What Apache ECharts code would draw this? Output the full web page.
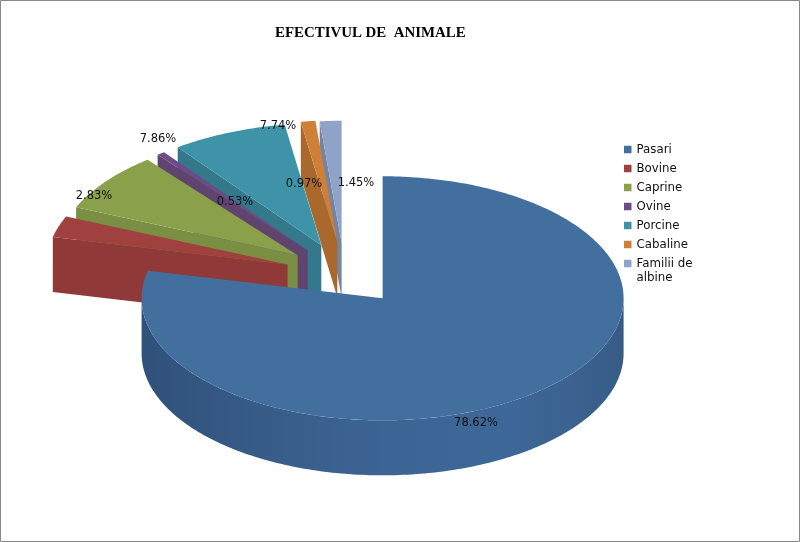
<!DOCTYPE html>
<html>
<head>
<meta charset="utf-8">
<style>html,body{margin:0;padding:0;background:#fff}#c{width:800px;height:542px}</style>
<script src="https://cdn.jsdelivr.net/npm/echarts@6/dist/echarts.min.js"></script>
</head>
<body>
<div id="c"></div>
<script>
const titleText = 'EFECTIVUL DE  ANIMALE';
const categories = ['Pasari', 'Bovine', 'Caprine', 'Ovine', 'Porcine', 'Cabaline', 'Familii de albine'];
const shares = [78.62, 2.83, 7.86, 0.53, 7.74, 0.97, 1.45];

const topColors  = ['#436f9f', '#a0413f', '#8aa04b', '#6c4b86', '#3f93a9', '#cf8038', '#8fa3c9'];
const wallColors = ['#3a6090', '#8f3a38', '#7b8f44', '#5f4470', '#34788c', '#a9682c', '#76849f'];
const explodeX = [0, -95, -85, -75, -61.3, -45.3, -41];
const explodeY = [0, -33.7, -43, -48, -53, -56, -55.5];
const labelX = [476, 94, 158, 235, 278, 304, 356];
const labelY = [423, 196, 139, 202, 126, 184, 183];

const CX = 382.6, CY = 298.3, RX = 241, RY = 122, DEPTH = 55;

const chart = echarts.init(document.getElementById('c'), null, {renderer: 'canvas'});
const total = shares.reduce((a, b) => a + b, 0);
const starts = [];
shares.reduce((acc, v, i) => { starts[i] = acc; return acc + v; }, 0);

function pt(ox, oy, deg) {
  const t = deg * Math.PI / 180;
  return [ox + RX * Math.sin(t), oy - RY * Math.cos(t)];
}
function arc(ox, oy, a, b) {
  const pts = [], n = Math.max(2, Math.ceil(Math.abs(b - a)));
  for (let k = 0; k <= n; k++) pts.push(pt(ox, oy, a + (b - a) * k / n));
  return pts;
}
function renderSlice(params, api) {
  const i = params.seriesIndex;
  const share = api.value(0);
  const a0 = starts[i] / total * 360, a1 = a0 + share / total * 360;
  const ox = CX + explodeX[i], oy = CY + explodeY[i];
  const children = [];
  if (i === 0) {
    const front = arc(ox, oy, 90, 270);
    const wall = front.concat(front.slice().reverse().map(p => [p[0], p[1] + DEPTH]));
    children.push({
      type: 'polygon', shape: {points: wall},
      style: {fill: new echarts.graphic.LinearGradient(0, 0, 1, 0, [
        {offset: 0, color: '#30517a'},
        {offset: 0.25, color: '#375c88'},
        {offset: 0.5, color: '#3c6494'},
        {offset: 0.75, color: '#3e6898'},
        {offset: 0.9, color: '#3b6290'},
        {offset: 1, color: '#365b86'}
      ])}
    });
  } else {
    const p = pt(ox, oy, a0);
    children.push({
      type: 'polygon',
      shape: {points: [p, [ox, oy], [ox, oy + DEPTH], [p[0], p[1] + DEPTH]]},
      style: {fill: wallColors[i]}
    });
  }
  children.push({
    type: 'polygon',
    shape: {points: [[ox, oy]].concat(arc(ox, oy, a0, a1))},
    style: {fill: topColors[i]}
  });
  return {type: 'group', children};
}
function renderLabel(params, api) {
  const i = params.dataIndex;
  return {
    type: 'text',
    style: {
      x: labelX[i], y: labelY[i], text: api.value(0).toFixed(2) + '%',
      fill: '#111', font: '11.5px "DejaVu Sans"', textAlign: 'center', textVerticalAlign: 'middle'
    }
  };
}

const series = categories.map((name, i) => ({
  type: 'custom', name, coordinateSystem: 'none',
  z: 2 + categories.length - i, silent: true,
  itemStyle: {color: topColors[i]},
  data: [[shares[i]]],
  renderItem: renderSlice
}));
series.push({
  type: 'custom', name: 'labels', coordinateSystem: 'none', z: 20, silent: true,
  data: shares.map(v => [v]), renderItem: renderLabel
});

chart.setOption({
  animation: false,
  backgroundColor: '#fff',
  title: {
    text: titleText, left: 275, top: 26, padding: 0,
    textStyle: {fontFamily: '"Liberation Serif"', fontWeight: 'bold', fontSize: 14.9, color: '#000'}
  },
  legend: {
    orient: 'vertical', left: 624, top: 142, padding: 0, icon: 'rect',
    itemWidth: 7.5, itemHeight: 7.5, itemGap: 4, selectedMode: false,
    textStyle: {fontFamily: '"DejaVu Sans"', fontSize: 11.8, color: '#111', lineHeight: 15},
    formatter: n => n.replace(' albine', ''),
    data: categories
  },
  graphic: [{
    type: 'rect', silent: true, z: 100,
    shape: {x: 0.5, y: 0.5, width: 799, height: 541},
    style: {fill: 'none', stroke: '#888', lineWidth: 1}
  }, {
    type: 'text', silent: true, z: 100, x: 636.5, y: 278,
    style: {text: 'albine', fill: '#111', font: '11.8px "DejaVu Sans"', textVerticalAlign: 'middle'}
  }],
  series
});
</script>
</body>
</html>
